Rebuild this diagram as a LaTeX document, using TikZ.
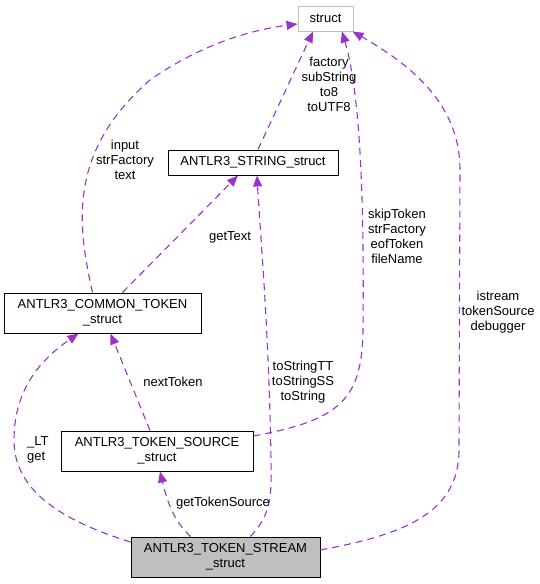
\documentclass[tikz,border=0pt]{standalone}
\usepackage{fontspec}
\setmainfont{Liberation Sans}
\usetikzlibrary{arrows.meta, calc}
\definecolor{p1}{HTML}{9A32CD}
\definecolor{g1}{HTML}{BFBFBF}
\begin{document}
\begin{tikzpicture}[x=1pt, y=-1pt, font=\fontsize{13}{15}\selectfont,
		rec/.style={draw=black, line width=1pt, fill=white, align=center, inner sep=0pt, minimum height=40pt},
		dep/.style={draw=p1, line width=1.1pt, dash pattern=on 7pt off 5pt, -{Triangle[length=11pt,width=9pt]}},
		lbl/.style={align=center, inner sep=0pt}]
				\useasboundingbox (0,0) rectangle (540,584);
				
				\node[rec, draw=g1, minimum width=55pt, minimum height=25pt] (st) at (325.5,18.5) {struct};
				\node[rec, minimum width=170pt, minimum height=25pt] (str) at (253,162.5) {ANTLR3\_STRING\_struct};
				\node[rec, minimum width=197pt] (ct) at (102.5,313) {ANTLR3\_COMMON\_TOKEN\\\_struct};
				\node[rec, minimum width=192pt] (src) at (157,451) {ANTLR3\_TOKEN\_SOURCE\\\_struct};
				\node[rec, fill=g1, minimum width=189pt] (tks) at (225.5,557) {ANTLR3\_TOKEN\_STREAM\\\_struct};
				
				% edges into struct
				\draw[dep] ([xshift=-10pt]ct.north) .. controls (76,220) and (70,150) .. (150,80) .. controls (200,45) and (250,30) .. ([yshift=-5.5pt]st.west);
				\draw[dep] ([xshift=5pt]str.north) -- ([xshift=-12.5pt]st.south);
				\draw[dep] ([yshift=15pt]src.east) .. controls (340,420) and (362,400) .. (363,330) .. controls (364,220) and (362,100) .. ([xshift=16.5pt]st.south);
				\draw[dep] ([yshift=7pt]tks.east) .. controls (400,535) and (459,515) .. (459,450) -- (460,170) .. controls (460,110) and (420,70) .. ([xshift=-1pt]st.south east);
				
				% edges into the string struct
				\draw[dep] ([xshift=20pt]ct.north) -- ([xshift=-15pt]str.south);
				\draw[dep] ([xshift=25pt]tks.north) .. controls (270,515) and (272,500) .. (271,460) .. controls (269,330) and (260,230) .. ([xshift=4pt]str.south);
				
				% edges into the token structs
				\draw[dep] ([xshift=-7pt]src.north) -- ([xshift=8pt]ct.south);
				\draw[dep] ([yshift=15pt]tks.west) .. controls (60,520) and (14,490) .. (14,440) .. controls (14,390) and (40,360) .. ([xshift=-24pt]ct.south);
				\draw[dep] ([xshift=-35pt]tks.north) .. controls (175,522) and (168,505) .. ([xshift=3pt]src.south);
				
				\node[lbl] (l1) at (125,160) {input\\strFactory\\text};
				\node[lbl] (l2) at (329,84.5) {factory\\subString\\to8\\toUTF8};
				\node[lbl] (l3) at (397,236) {skipToken\\strFactory\\eofToken\\fileName};
				\node[lbl] (l4) at (498,312) {istream\\tokenSource\\debugger};
				\node[lbl] (l5) at (230,237) {getText};
				\node[lbl] (l6) at (303,382) {toStringTT\\toStringSS\\toString};
				\node[lbl] (l7) at (173,382) {nextToken};
				\node[lbl, align=left, anchor=west] (l8) at (27,449.5) {\_LT\\get};
				\node[lbl] (l9) at (223,503) {getTokenSource};
			\end{tikzpicture}
\end{document}
